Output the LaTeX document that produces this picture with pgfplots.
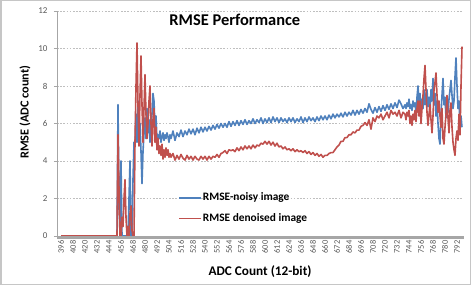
\documentclass[border=0pt]{standalone}
\usepackage{fontspec}
\setmainfont{Carlito}
\usepackage{pgfplots}
\pgfplotsset{compat=1.18}
\definecolor{xlblue}{RGB}{79,129,189}
\definecolor{xlred}{RGB}{192,80,77}
\definecolor{tickgray}{RGB}{89,89,89}
\begin{document}
\begin{tikzpicture}
\useasboundingbox (0,0) rectangle (471bp,285bp);
\fill[white] (0,0) rectangle (471bp,285bp);
\draw[gray!45, line width=1.5bp] (0.75bp,0.75bp) rectangle (470.25bp,284.25bp);
\begin{axis}[
  at={(57bp,49bp)}, anchor=south west,
  scale only axis, width=406bp, height=225bp,
  xmin=392, xmax=798, ymin=0, ymax=12,
  axis x line*=bottom, axis y line*=left,
  axis line style={-, gray!70, line width=0.6bp},
  xtick={396,408,...,792},
  minor xtick={392,393,...,798},
  ytick={0,2,...,12},
  tick align=outside,
  major tick length=3bp, minor tick length=3bp,
  tick style={gray!70, line width=0.4bp},
  minor tick style={gray!70, line width=0.4bp},
  ymajorgrids,
  major grid style={gray!50, dash pattern=on 1.6bp off 1.6bp, line width=0.6bp},
  /pgf/number format/assume math mode=true,
  /pgf/number format/1000 sep={},
  xticklabel style={rotate=90, anchor=east, font=\fontsize{8.5}{9}\selectfont, text=tickgray, inner sep=1.5bp},
  yticklabel style={font=\fontsize{9}{10}\selectfont, text=tickgray, xshift=-3bp},
  xlabel={\textbf{ADC Count (12-bit)}},
  xlabel style={at={(axis description cs:0.5,-0.16)}, anchor=center, font=\fontsize{13.3}{15}\selectfont},
  ylabel={\textbf{RMSE (ADC count)}},
  ylabel style={at={(axis description cs:-0.079,0.55)}, anchor=center, font=\fontsize{12.3}{13}\selectfont},
  legend style={at={(0.298,0.197)}, anchor=north west, draw=none, fill=none,
    font=\bfseries\fontsize{11.4}{13}\selectfont, row sep=9.5bp, inner sep=0pt,
    nodes={inner sep=1bp}},
  legend cell align=left,
  legend image code/.code={\draw[#1, line width=1.8bp] (0bp,0bp) -- (22bp,0bp);},
  every axis plot/.append style={line width=1.6bp, line join=round},
]
\addplot[xlblue, mark=none] coordinates {
(396,0) (450,0) (452,0) (453,7.0) (454,2.0) (455,0) (456,4.0) (457,0) (458,0) (460,0)
(462,0) (463,0) (464,2.0) (465,4.0) (466,0) (467,0) (468,3.0) (469,5.0) (470,4.8)
(471,6.5) (472,5.0) (473,7.2) (474,5.5) (475,6.0) (476,4.5) (477,2.8) (478,4.5) (479,5.5)
(480,6.3) (481,5.2) (482,6.8) (483,5.5) (484,6.2) (485,5.0) (486,6.0) (487,6.5) (488,7.6)
(489,7.2) (490,5.8) (491,6.4) (492,5.1) (493,5.4) (494,5.2) (495,5.6) (496,5.0) (497,5.3)
(498,5.5) (499,5.1) (500,5.4) (501,5.2) (502,5.5) (503,5.3) (504,5.0) (505,5.4)
(506,5.2) (508,5.6) (510,5.1) (512,5.5) (514,5.3) (516,5.65) (518,5.3) (520,5.6) (522,5.4)
(524,5.7) (526,5.45) (528,5.7) (530,5.4) (532,5.75) (534,5.5) (536,5.8) (538,5.55) (540,5.8)
(542,5.6) (544,5.85) (546,5.65) (548,5.9) (550,5.7) (552,5.95) (554,5.75) (556,6.0) (558,5.8)
(560,6.0) (562,5.8) (564,6.1) (566,5.85) (568,6.1) (570,5.9) (572,6.15) (574,5.9) (576,6.15)
(578,5.95) (580,6.2) (582,5.95) (584,6.15) (586,6.0) (588,6.25) (590,6.0) (592,6.2) (594,6.05)
(596,6.3) (598,6.0) (600,6.25) (602,6.05) (604,6.3) (606,6.05) (608,6.35) (610,6.1) (612,6.3)
(614,6.05) (616,6.3) (618,6.1) (620,6.25) (622,6.05) (624,6.3) (626,6.1) (628,6.3) (630,6.05)
(632,6.25) (634,6.1) (636,6.35) (638,6.05) (640,6.3) (642,6.1) (644,6.35) (646,6.15) (648,6.3)
(650,6.1) (652,6.35) (654,6.15) (656,6.4) (658,6.2) (660,6.4) (662,6.2) (664,6.45) (666,6.25)
(668,6.5) (670,6.3) (672,6.5) (674,6.35) (676,6.55) (678,6.35) (680,6.6) (682,6.4) (684,6.6)
(686,6.45) (688,6.7) (690,6.45) (692,6.7) (694,6.5) (696,6.75) (698,6.55) (700,6.8) (702,6.6)
(704,7.05) (706,6.75) (708,6.55) (710,6.85) (712,6.6) (714,6.9) (716,6.65) (718,6.95) (720,6.7)
(722,7.0) (724,6.75) (726,7.05) (728,6.8) (730,7.1) (732,6.85) (734,7.25) (736,7.05) (738,6.8)
(740,7.0) (741,6.8) (742,7.1) (743,6.9) (744,7.3) (745,6.8) (746,7.0) (747,6.7) (748,7.2)
(749,6.9) (750,7.1) (751,6.6) (752,7.4) (753,8.0) (754,7.0) (755,7.6) (756,6.6) (757,7.3)
(758,6.8) (759,7.8) (760,7.0) (761,7.5) (762,7.8) (763,6.9) (764,7.4) (765,6.6) (766,7.8)
(767,7.2) (768,8.4) (769,7.0) (770,7.6) (771,6.4) (772,7.2) (773,6.0) (774,5.2) (775,4.9)
(776,6.5) (777,7.5) (778,8.4) (779,7.0) (780,7.4) (781,6.3) (782,7.0) (783,6.6) (784,7.3)
(785,7.8) (786,8.3) (787,7.5) (788,6.8) (789,7.2) (790,8.5) (791,9.5) (792,8.0) (793,6.8)
(794,7.2) (795,6.0) (796,6.4) (797,5.8)
};
\addlegendentry{RMSE-noisy image}
\addplot[xlred, mark=none] coordinates {
(396,0) (450,0) (452,0) (453,5.4) (454,2.5) (455,0) (456,0) (457,1.0) (458,0.5) (459,2.0)
(460,3.0) (461,1.0) (462,0) (463,0.5) (464,0) (465,1.2) (466,1.6) (467,0.3) (468,0) (469,0)
(470,5.0) (471,8.0) (472,10.3) (473,7.0) (474,4.8) (475,7.5) (476,9.6) (477,7.0) (478,5.0)
(479,6.8) (480,8.6) (481,6.5) (482,5.2) (483,6.0) (484,7.2) (485,8.0) (486,6.0) (487,4.8)
(488,6.2) (489,6.8) (490,5.0) (491,5.8) (492,4.6) (493,5.2) (494,4.4) (495,4.8) (496,4.3)
(497,4.9) (498,4.1) (499,4.6) (500,4.2) (501,4.7) (502,4.3) (503,4.6) (504,4.2) (505,4.4)
(506,4.2) (508,4.4) (510,4.05) (512,4.3) (514,4.1) (516,4.35) (518,4.15) (520,4.05) (522,4.3)
(524,4.1) (526,4.25) (528,4.05) (530,4.25) (532,4.1) (534,4.05) (536,4.25) (538,4.1) (540,4.25)
(542,4.05) (544,4.25) (546,4.1) (548,4.25) (550,4.2) (552,4.35) (554,4.2) (556,4.4) (558,4.45)
(560,4.55) (562,4.4) (564,4.6) (566,4.55) (568,4.6) (570,4.5) (572,4.7) (574,4.55) (576,4.75)
(578,4.6) (580,4.8) (582,4.65) (584,4.8) (586,4.65) (588,4.85) (590,4.7) (592,4.85) (594,4.8)
(596,4.95) (598,4.9) (600,5.05) (602,4.9) (604,5.05) (606,4.85) (608,5.0) (610,4.8) (612,4.95)
(614,4.75) (616,4.8) (618,4.65) (620,4.75) (622,4.6) (624,4.65) (626,4.55) (628,4.65) (630,4.5)
(632,4.6) (634,4.5) (636,4.55) (638,4.45) (640,4.55) (642,4.4) (644,4.5) (646,4.35) (648,4.45)
(650,4.3) (652,4.4) (654,4.25) (656,4.35) (658,4.2) (660,4.3) (662,4.3) (664,4.4) (666,4.45)
(668,4.45) (670,4.6) (672,4.75) (674,4.85) (676,5.05) (678,5.05) (680,5.25) (682,5.25) (684,5.4)
(686,5.4) (688,5.55) (690,5.5) (692,5.65) (694,5.65) (696,5.85) (698,5.9) (700,6.05) (702,5.9)
(704,6.2) (706,5.7) (708,6.3) (710,6.1) (712,6.4) (714,6.3) (716,6.5) (718,6.2) (720,6.4)
(722,6.6) (724,6.3) (726,6.7) (728,6.5) (730,6.6) (732,6.4) (734,6.7) (736,6.3) (738,6.6)
(740,6.5) (741,6.2) (742,6.6) (743,6.4) (744,6.7) (745,6.0) (746,6.4) (747,5.9) (748,6.5)
(749,6.2) (750,6.7) (751,6.1) (752,6.8) (753,7.2) (754,6.4) (755,7.2) (756,6.0) (757,6.8)
(758,7.5) (759,8.4) (760,9.1) (761,7.8) (762,6.6) (763,5.9) (764,6.5) (765,7.0) (766,6.2)
(767,5.5) (768,6.4) (769,7.8) (770,8.2) (771,8.7) (772,7.5) (773,6.6) (774,7.2) (775,6.4)
(776,5.8) (777,6.8) (778,5.2) (779,4.9) (780,5.8) (781,6.5) (782,7.5) (783,6.3) (784,5.5)
(785,6.7) (786,7.1) (787,5.8) (788,5.0) (789,4.6) (790,4.3) (791,5.2) (792,5.6) (793,5.1)
(794,6.5) (795,5.4) (796,8.0) (797,10.1)
};
\addlegendentry{RMSE denoised image}
\node[font=\bfseries\fontsize{16.5}{18}\selectfont, anchor=center] at (rel axis cs:0.438,0.962) {RMSE Performance};
\end{axis}
\end{tikzpicture}
\end{document}
